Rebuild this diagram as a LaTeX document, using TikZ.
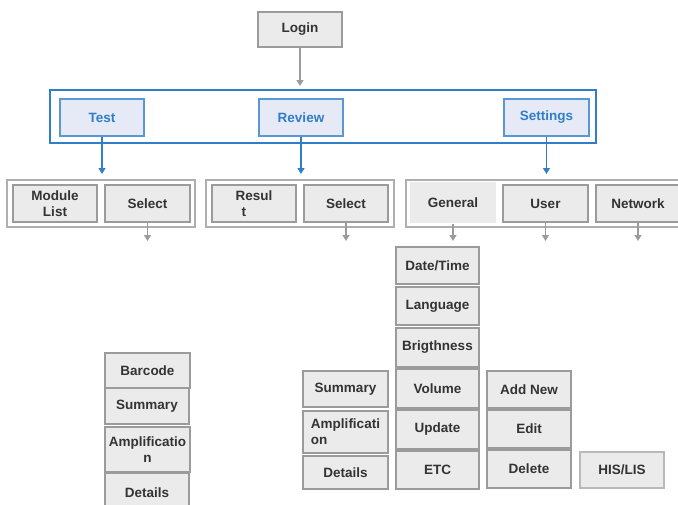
\documentclass[tikz,border=0pt]{standalone}
\usepackage{fontspec}
\setmainfont{Liberation Sans}
\usetikzlibrary{arrows.meta}
\definecolor{gfill}{HTML}{EBEBEB}
\definecolor{gline}{HTML}{9B9B9B}
\definecolor{gtext}{HTML}{333333}
\definecolor{bline}{HTML}{2F7EC7}
\definecolor{bfill}{HTML}{E5EAF6}
\newcommand\bx[7][]{\node[gbox,#1,minimum width={(#5-#3)*1pt},minimum height={(#6-#4)*1pt}] (#2) at ({(#3+#5)/2},{(#4+#6)/2}) {#7};}
\newcommand\frm[6][]{\draw[#1] (#3,#4) rectangle (#5,#6) coordinate (#2);}
\begin{document}
\begin{tikzpicture}[x=1pt,y=-1pt,
  gbox/.style={draw=gline,line width=1.6pt,fill=gfill,text=gtext,inner sep=1pt,align=center,
    font=\fontsize{13.5}{16}\selectfont\bfseries},
  bbox/.style={draw=bline!80,line width=1.2pt,fill=bfill,text=bline},
  grp/.style={draw=gline!80,line width=1.6pt},
  garr/.style={draw=gline,line width=1.4pt,-{Triangle[width=7pt,length=6pt]}},
  barr/.style={draw=bline,line width=1.4pt,-{Triangle[width=7pt,length=6pt]}}]
\useasboundingbox (0,0) rectangle (678,504);
% top
\bx[line width=1.2pt]{login}{258}{12}{342}{47}{Login}
\draw[draw=bline,line width=1.2pt] (50,90) rectangle (596,143);
\bx[bbox]{test}{60}{99}{144}{136}{Test}
\bx[bbox]{review}{259}{99}{343}{136}{Review}
\bx[bbox]{settings}{504}{99}{589}{136}{Settings}
\coordinate (menuTop) at (300,86);
\draw[garr] (login.south) -- (menuTop);
\coordinate (t1) at (102,174);
\coordinate (t2) at (301,174);
\coordinate (t3) at (546.5,174);
\draw[barr] (test.south) -- (t1);
\draw[barr] (review.south) -- (t2);
\draw[barr] (settings.south) -- (t3);
% groups
\draw[grp] (7,180) rectangle (195,227);
\draw[grp] (206,180) rectangle (394,227);
\draw[grp] (406,180) rectangle (690,227);
\bx[line width=1.3pt]{modlist}{13}{185}{97}{222}{Module\\List}
\bx[line width=1.3pt]{selA}{105}{185}{190}{222}{Select}
\bx[line width=1.3pt,align=left]{result}{212}{185}{296}{222}{Resul\\\hspace*{6pt}t}
\bx[line width=1.3pt]{selB}{304}{185}{388}{222}{Select}
\bx[draw=none]{general}{410}{182}{496}{223}{General}
\bx[line width=1.3pt]{user}{503}{185}{588}{222}{User}
\bx[line width=1.3pt]{network}{596}{185}{680}{222}{Network}
\coordinate (a1) at (147.5,241);
\coordinate (a2) at (346,241);
\coordinate (a3) at (453,241);
\coordinate (a4) at (545.5,241);
\coordinate (a5) at (638,241);
\draw[garr] (selA.south) -- (a1);
\draw[garr] (selB.south) -- (a2);
\draw[garr] (general.south) -- (a3);
\draw[garr] (user.south) -- (a4);
\draw[garr] (network.south) -- (a5);
% test column
\bx{barcode}{105}{353}{190}{388}{Barcode}
\bx{sumA}{105}{388}{189}{424}{Summary}
\bx{ampA}{105}{427}{190}{472}{Amplificatio\\n}
\bx{detA}{105}{473}{189}{512}{Details}
% review column
\bx{sumB}{303}{371}{388}{407}{Summary}
\bx[align=left]{ampB}{303}{411}{388}{453}{Amplificati\\on}
\bx{detB}{303}{456}{388}{489}{Details}
% general column
\bx{datetime}{396}{247}{479}{284}{Date/Time}
\bx{language}{396}{287}{479}{325}{Language}
\bx{brightness}{396}{328}{479}{367}{Brigthness}
\bx{volume}{396}{369}{479}{408}{Volume}
\bx{update}{396}{410}{479}{449}{Update}
\bx{etc}{396}{451}{479}{489}{ETC}
% user column
\bx{addnew}{487}{371}{571}{408}{Add New}
\bx{edit}{487}{410}{571}{448}{Edit}
\bx{delete}{487}{450}{571}{488}{Delete}
% network
\bx[draw=gline!70,line width=1.3pt]{hislis}{580}{452}{664}{488}{HIS/LIS}
\end{tikzpicture}
\end{document}
